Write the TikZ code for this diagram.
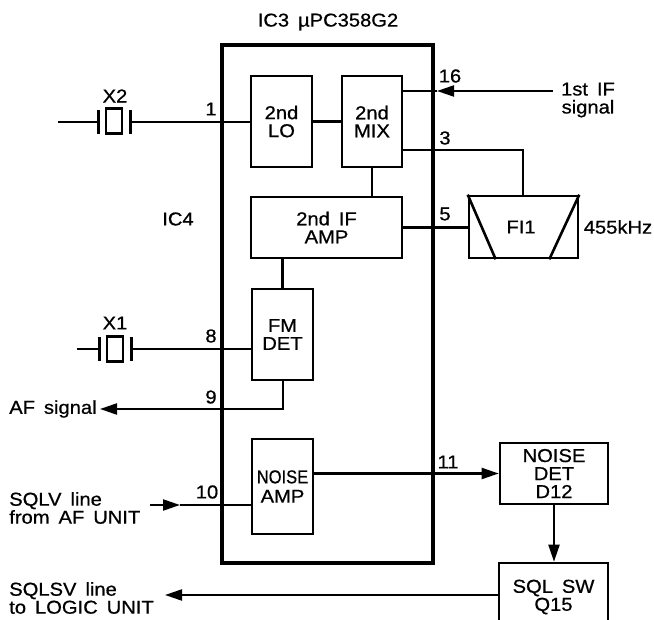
\documentclass[tikz,border=0pt]{standalone}
\usepackage{fontspec}
\usepackage{graphicx}
\setmainfont[FakeStretch=1.08,FakeBold=0.7,WordSpace=1.6]{Liberation Sans}
\usetikzlibrary{arrows.meta}
\def\pxu{0.75pt}
\tikzset{
  x=0.75pt,y=-0.75pt,
  txt/.style={font=\fontsize{14}{13.5}\selectfont,align=center,inner sep=0pt,text=black},
  blk/.style={draw=black,line width=2.6*\pxu,inner sep=0pt,fill=white,txt,minimum width=#1*\pxu},
  wire/.style={draw=black,line width=2.1*\pxu},
  heavy/.style={draw=black,line width=4.2*\pxu},
  tip/.style={-{Triangle[length=17*\pxu,width=11*\pxu]}},
  xtal/.style={draw=black,line width=2.2*\pxu,inner sep=0pt,minimum width=16*\pxu,minimum height=25*\pxu},
}
\begin{document}
\begin{tikzpicture}
\path[clip] (0,0) rectangle (654,620);
\fill[white] (0,0) rectangle (654,620);
% IC outline
\node[heavy,inner sep=0pt,minimum width=211*\pxu,minimum height=518*\pxu] (ic) at (327.5,304) {};
% blocks
\node[blk=61,minimum height=91*\pxu] (lo) at (281.5,121.5) {2nd\\LO};
\node[blk=60,minimum height=91*\pxu] (mix) at (372,121.5) {2nd\\MIX};
\node[blk=151,minimum height=61*\pxu] (ifa) at (326.5,227.5) {2nd IF\\AMP};
\node[blk=61,minimum height=91*\pxu] (fm) at (282.5,334.5) {FM\\DET};
\node[blk=61,minimum height=95*\pxu] (na) at (282.5,486.5) {\raisebox{2pt}{\scalebox{0.82}[1]{NOISE}}\\[-1pt]AMP};
\node[blk=109,minimum height=62*\pxu] (fi) at (523.5,227) {};
\node[blk=108,minimum height=61*\pxu] (nd) at (554,473.5) {NOISE\\DET\\D12};
\node[blk=109,minimum height=68*\pxu] (sq) at (553.5,597) {SQL SW\\Q15};
\draw[wire,line width=2.6*\pxu] (fi.north west) -- ([xshift=28*\pxu]fi.south west);
\draw[wire,line width=2.6*\pxu] (fi.north east) -- ([xshift=-30*\pxu]fi.south east);
\node[txt] (fit) at (521,227) {FI1};
% crystals
\node[xtal] (c2) at (114,121) {};
\coordinate (c2l) at (98,122);
\coordinate (c2r) at (130,122);
\coordinate (c2w) at (58,122);
\draw[wire] (c2w) -- (c2l);
\draw[wire,line width=3*\pxu] (98,110) -- (98,134);
\draw[wire,line width=3*\pxu] (130,110) -- (130,134);
\draw[wire] (c2r) -- (c2r -| lo.west);
\node[xtal] (c1) at (115,349) {};
\coordinate (c1l) at (99,349);
\coordinate (c1r) at (131,349);
\coordinate (c1w) at (77,349);
\draw[wire] (c1w) -- (c1l);
\draw[wire,line width=3*\pxu] (99,337) -- (99,361);
\draw[wire,line width=3*\pxu] (131,337) -- (131,361);
\draw[wire] (c1r) -- (fm.west |- c1r);
% connectors
\draw[wire] (lo.east) -- (mix.west);
\draw[wire] (mix.south) -- (ifa.north -| mix.south);
\draw[wire] (fm.north) -- (ifa.south -| fm.north);
\coordinate (s16) at (553,91);
\coordinate (t16) at (437,91);
\draw[wire,tip] (s16) -- (t16);
\draw[wire] (t16) -- (mix.east |- t16);
\coordinate (p3) at (523,150);
\draw[wire] (mix.east |- p3) -- (p3) -- (p3 |- fi.north);
\draw[wire] (ifa.east) -- (ifa.east -| fi.west);
\coordinate (p9) at (283,409);
\coordinate (t9) at (100,409);
\draw[wire,tip] (fm.south -| p9) -- (p9) -- (t9);
\coordinate (s10) at (150,505);
\coordinate (t10) at (180,505);
\draw[wire,tip] (s10) -- (t10);
\draw[wire] (t10) -- (na.west |- t10);
\draw[wire,tip] (na.east |- nd.west) -- (nd.west);
\draw[wire,tip] (nd.south) -- (sq.north -| nd.south);
\coordinate (t15) at (165,595);
\draw[wire,tip] (sq.west |- t15) -- (t15);
% labels
\node[txt] (title) at (328,22) {IC3 µPC358G2};
\node[txt] (lx2) at (115,96) {X2};
\node[txt] (lx1) at (115,323) {X1};
\node[txt] (lic4) at (178,219) {IC4};
\node[txt] (n1) at (211,109) {1};
\node[txt] (n8) at (211,336) {8};
\node[txt] (n9) at (211,397) {9};
\node[txt] (n10) at (207,492) {10};
\node[txt] (n16) at (450,76) {16};
\node[txt] (n3) at (445,138) {3};
\node[txt] (n5) at (445,214) {5};
\node[txt] (n11) at (448,462) {11};
\node[txt] (lif) at (588,100) {1st IF\\signal};
\node[txt] (lk) at (618,227) {455kHz};
\node[txt,anchor=west] (laf) at (9,409) {AF signal};
\node[txt,anchor=west,align=left] (lsq) at (9,508) {SQLV line\\from AF UNIT};
\node[txt,anchor=west,align=left] (lsv) at (9,598) {SQLSV line\\to LOGIC UNIT};
\end{tikzpicture}
\end{document}
